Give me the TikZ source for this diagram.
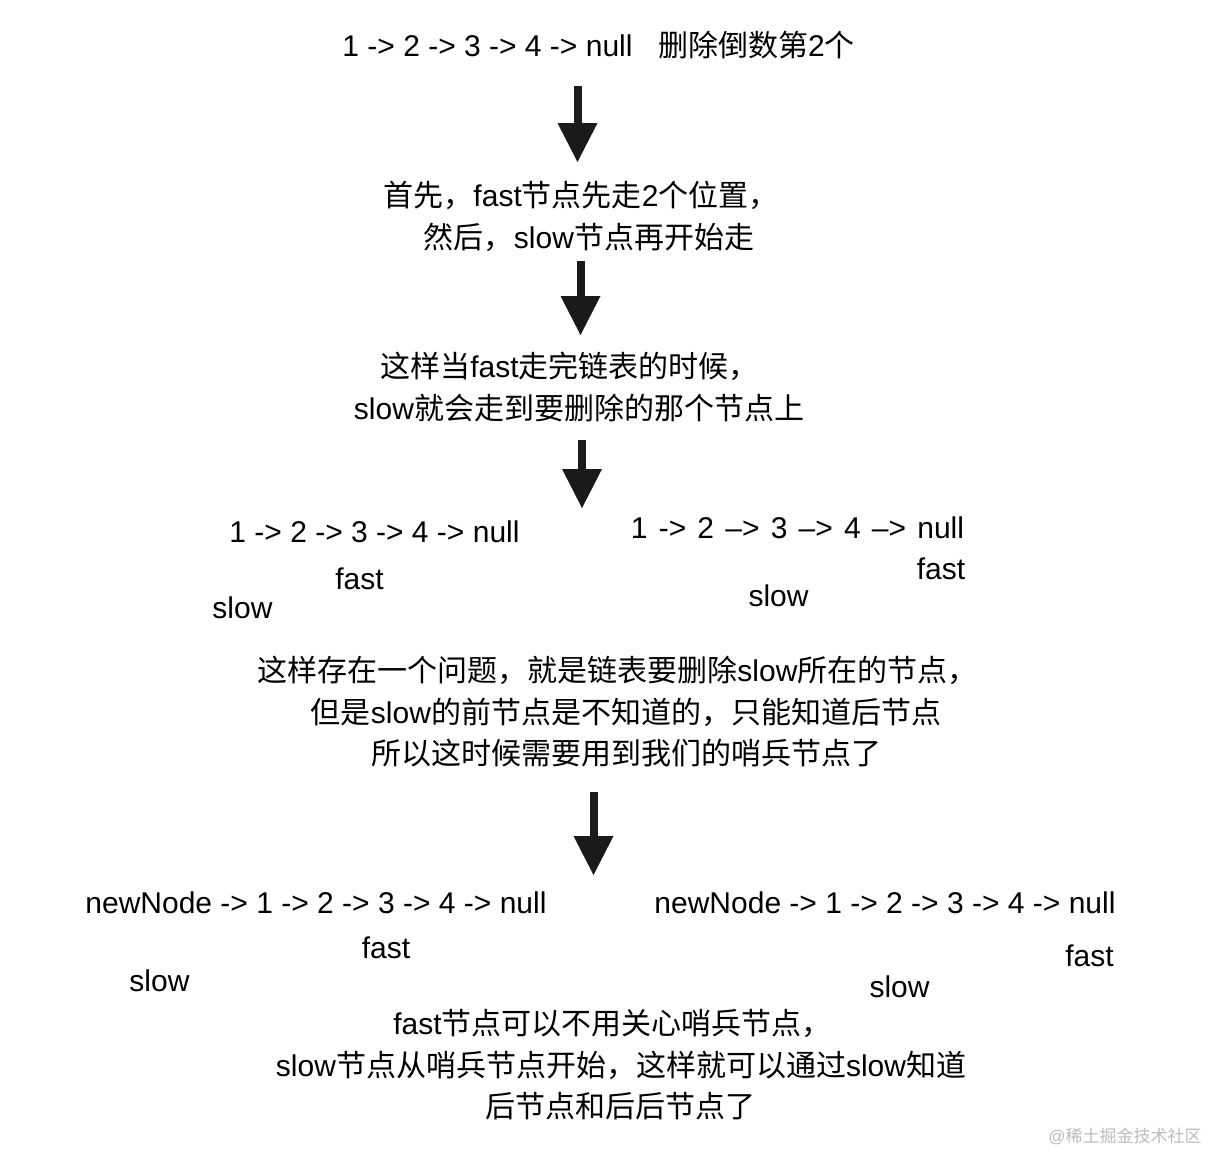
\documentclass[tikz,border=0pt]{standalone}
\usepackage{fontspec}
\setmainfont{Liberation Sans}
\newfontfamily\cjk{Noto Sans CJK SC}
\newcommand\zh[1]{{\cjk #1}}
\usetikzlibrary{arrows.meta}
\definecolor{arrowblack}{HTML}{1A1A1A}
\definecolor{wmgray}{HTML}{BDBDBD}
\tikzset{
  txt/.style={anchor=base, inner sep=0pt, font=\fontsize{30pt}{36pt}\selectfont},
  wm/.style={anchor=base, inner sep=0pt, text=wmgray, font=\fontsize{17pt}{20pt}\selectfont},
  blockarrow/.style={line width=8pt, draw=arrowblack,
    -{Triangle[width=40pt,length=39pt,line width=0pt]}}
}
\begin{document}
\begin{tikzpicture}[x=1pt,y=-1pt]
\useasboundingbox[fill=white] (0,0) rectangle (1212,1152);

% title
\node[txt] (l1a) at (487.5,56) {1 -> 2 -> 3 -> 4 -> null};
\node[txt] (l1b) at (756.5,56) {\zh{删除倒数第}2\zh{个}};

% step 1
\node[txt] (s1a) at (581,206) {\zh{首先，}fast\zh{节点先走}2\zh{个位置，}};
\node[txt] (s1b) at (589,248) {\zh{然后，}slow\zh{节点再开始走}};

% step 2
\node[txt] (s2a) at (569.5,377) {\zh{这样当}fast\zh{走完链表的时候，}};
\node[txt] (s2b) at (579,419) {slow\zh{就会走到要删除的那个节点上}};

% lists 1
\node[txt] (la) at (374.5,542) {1 -> 2 -> 3 -> 4 -> null};
\node[txt] (lafast) at (359.5,589) {fast};
\node[txt] (laslow) at (242.5,618) {slow};

\node[txt] (lb) at (797.5,538) {\spaceskip=11.2pt 1 -> 2 –> 3 –> 4 –> null};
\node[txt] (lbfast) at (941,579) {fast};
\node[txt] (lbslow) at (778.5,606) {slow};

% problem paragraph
\node[txt] (p1) at (617.5,681) {\zh{这样存在一个问题，就是链表要删除}slow\zh{所在的节点，}};
\node[txt] (p2) at (626,723) {\zh{但是}slow\zh{的前节点是不知道的，只能知道后节点}};
\node[txt] (p3) at (626,764) {\zh{所以这时候需要用到我们的哨兵节点了}};

% lists 2
\node[txt] (na) at (316,913) {newNode -> 1 -> 2 -> 3 -> 4 -> null};
\node[txt] (nafast) at (386,958) {fast};
\node[txt] (naslow) at (159.5,991) {slow};

\node[txt] (nb) at (885,913) {newNode -> 1 -> 2 -> 3 -> 4 -> null};
\node[txt] (nbfast) at (1089.5,966) {fast};
\node[txt] (nbslow) at (899.5,997) {slow};

% final
\node[txt] (f1) at (612.5,1034) {fast\zh{节点可以不用关心哨兵节点，}};
\node[txt] (f2) at (621,1076) {slow\zh{节点从哨兵节点开始，这样就可以通过}slow\zh{知道}};
\node[txt] (f3) at (620.5,1117) {\zh{后节点和后后节点了}};

% watermark
\node[wm] (wmk) at (1125,1142) {@\zh{稀土掘金技术社区}};

% arrows
\coordinate (a1s) at (577.5,86);  \coordinate (a1e) at (577.5,162);
\coordinate (a2s) at (580.5,261); \coordinate (a2e) at (580.5,335);
\coordinate (a3s) at (582,440);   \coordinate (a3e) at (582,508);
\coordinate (a4s) at (593.5,792); \coordinate (a4e) at (593.5,875);
\draw[blockarrow] (a1s) -- (a1e);
\draw[blockarrow] (a2s) -- (a2e);
\draw[blockarrow] (a3s) -- (a3e);
\draw[blockarrow] (a4s) -- (a4e);
\end{tikzpicture}
\end{document}
